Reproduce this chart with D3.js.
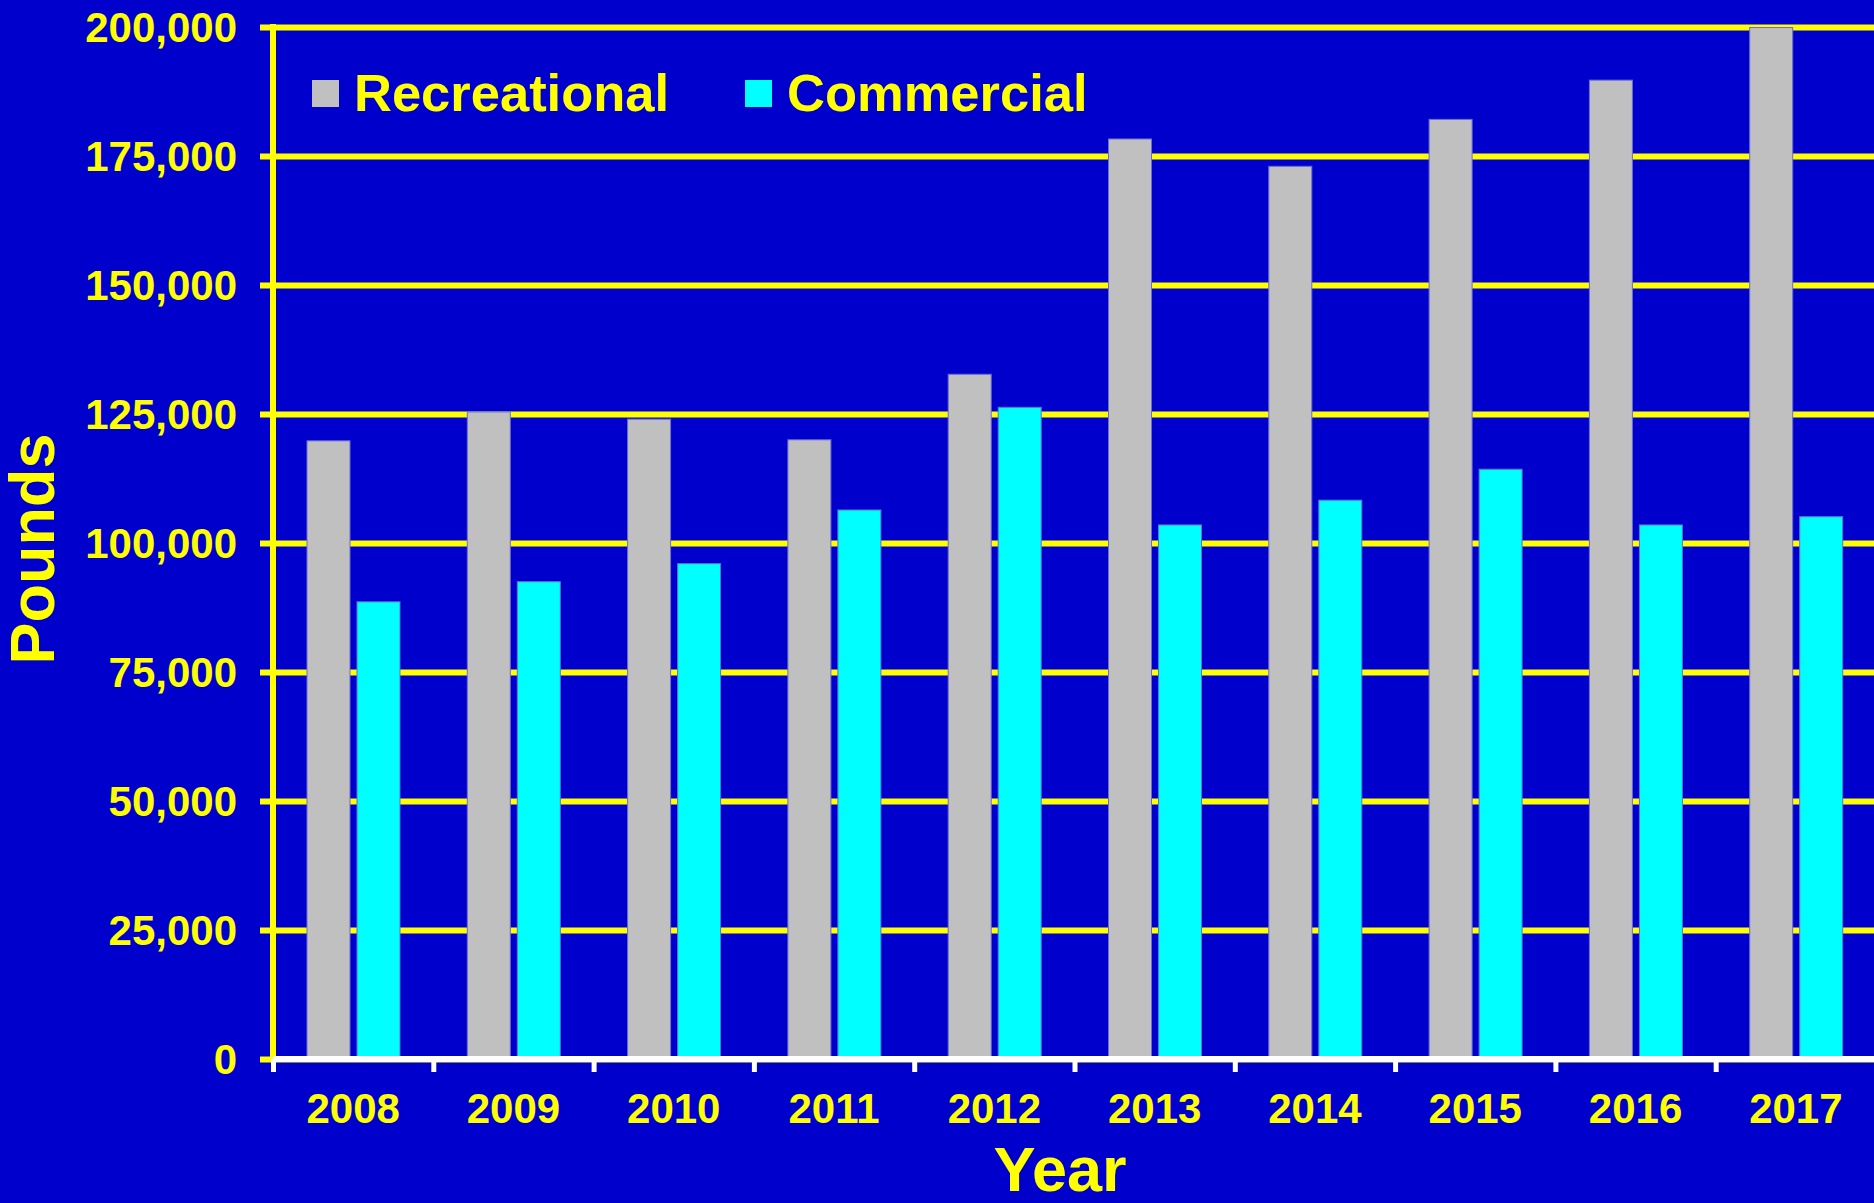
<!DOCTYPE html>
<html>
<head>
<meta charset="utf-8">
<script src="https://cdn.jsdelivr.net/npm/d3@7"></script>
<style>
  html, body { margin: 0; padding: 0; background: #0000CC; overflow: hidden; }
  text { font-family: "Liberation Sans", Arial, sans-serif; font-weight: bold; fill: #FFFF00; }
</style>
</head>
<body>
<div id="chart"></div>
<script>
// values
const years = ["2008", "2009", "2010", "2011", "2012", "2013", "2014", "2015", "2016", "2017"];
const recreational = [119800, 125400, 124000, 120000, 132700, 178300, 173000, 182100, 189700, 199900];
const commercial = [88600, 92500, 96000, 106400, 126300, 103500, 108300, 114300, 103500, 105100];
const seriesNames = ["Recreational", "Commercial"];
const yTicks = [0, 25000, 50000, 75000, 100000, 125000, 150000, 175000, 200000];

const colors = { Recreational: "#C0C0C0", Commercial: "#00FFFF" };

const W = 1874, H = 1203;
const plotLeft = 273, plotTop = 27, plotBottom = 1059;
const plotW = 1603;

const svg = d3.select("#chart").append("svg")
    .attr("width", W)
    .attr("height", H);

svg.append("rect").attr("width", W).attr("height", H).attr("fill", "#0000CC");

const x = d3.scaleBand()
    .domain(years)
    .range([plotLeft, plotLeft + plotW])
    .padding(0);

const xs = d3.scaleBand()
    .domain(seriesNames)
    .range([34, 127])
    .paddingInner(0.14)
    .paddingOuter(0);

const y = d3.scaleLinear()
    .domain([0, 200000])
    .range([plotBottom, plotTop]);

// gridlines + y labels
const yAxis = svg.append("g")
    .attr("transform", "translate(" + plotLeft + ",0)")
    .call(d3.axisLeft(y).tickValues(yTicks).tickFormat(d3.format(",")).tickSize(0).tickPadding(36));

yAxis.select(".domain").remove();
yAxis.selectAll(".tick line")
    .attr("x1", -13)
    .attr("x2", W - plotLeft)
    .attr("stroke", "#FFFF00")
    .attr("stroke-width", 6);
yAxis.selectAll(".tick text")
    .attr("font-size", 42)
    .attr("dy", "0.35em")
    .attr("fill", "#FFFF00");

// bars
const rows = years.map((yr, i) => ({ year: yr, Recreational: recreational[i], Commercial: commercial[i] }));

const groups = svg.append("g").selectAll("g")
    .data(rows)
    .join("g")
    .attr("transform", d => "translate(" + x(d.year) + ",0)");

groups.selectAll("rect")
    .data(d => seriesNames.map(s => ({ key: s, value: d[s] })))
    .join("rect")
    .attr("x", d => xs(d.key))
    .attr("width", xs.bandwidth())
    .attr("y", d => y(d.value))
    .attr("height", d => y(0) - y(d.value))
    .attr("fill", d => colors[d.key])
    .attr("stroke", "#6b6bd6")
    .attr("stroke-width", 1);

// y axis line
svg.append("line")
    .attr("x1", plotLeft).attr("x2", plotLeft)
    .attr("y1", plotTop - 3).attr("y2", plotBottom)
    .attr("stroke", "#FFFF00")
    .attr("stroke-width", 6);

// x axis (white)
const xAxis = svg.append("g")
    .attr("transform", "translate(0," + plotBottom + ")")
    .call(d3.axisBottom(x).tickSize(0).tickPadding(34));

xAxis.select(".domain")
    .attr("d", "M" + plotLeft + ",0H" + (plotLeft + plotW))
    .attr("stroke", "#FFFFFF")
    .attr("stroke-width", 6);
xAxis.selectAll(".tick text")
    .attr("font-size", 42)
    .attr("fill", "#FFFF00")
    .attr("dy", "0.71em");

const bounds = years.map(yr => x(yr)).concat([plotLeft + plotW]);
svg.append("g").selectAll("line")
    .data(bounds)
    .join("line")
    .attr("x1", d => d + 0.5).attr("x2", d => d + 0.5)
    .attr("y1", plotBottom).attr("y2", plotBottom + 13)
    .attr("stroke", "#FFFFFF")
    .attr("stroke-width", 5);

// legend
const legendPos = [312, 745];
const legend = svg.append("g").selectAll("g")
    .data(seriesNames)
    .join("g")
    .attr("transform", (d, i) => "translate(" + legendPos[i] + ",80)");

legend.append("rect")
    .attr("width", 27).attr("height", 27)
    .attr("fill", d => colors[d]);

legend.append("text")
    .attr("x", 42).attr("y", 31)
    .attr("font-size", 52.5)
    .text(d => d);

// axis titles
svg.append("text")
    .attr("transform", "translate(54,549) rotate(-90)")
    .attr("text-anchor", "middle")
    .attr("font-size", 63)
    .text("Pounds");

svg.append("text")
    .attr("x", 1060).attr("y", 1191)
    .attr("text-anchor", "middle")
    .attr("font-size", 63)
    .text("Year");
</script>
</body>
</html>
